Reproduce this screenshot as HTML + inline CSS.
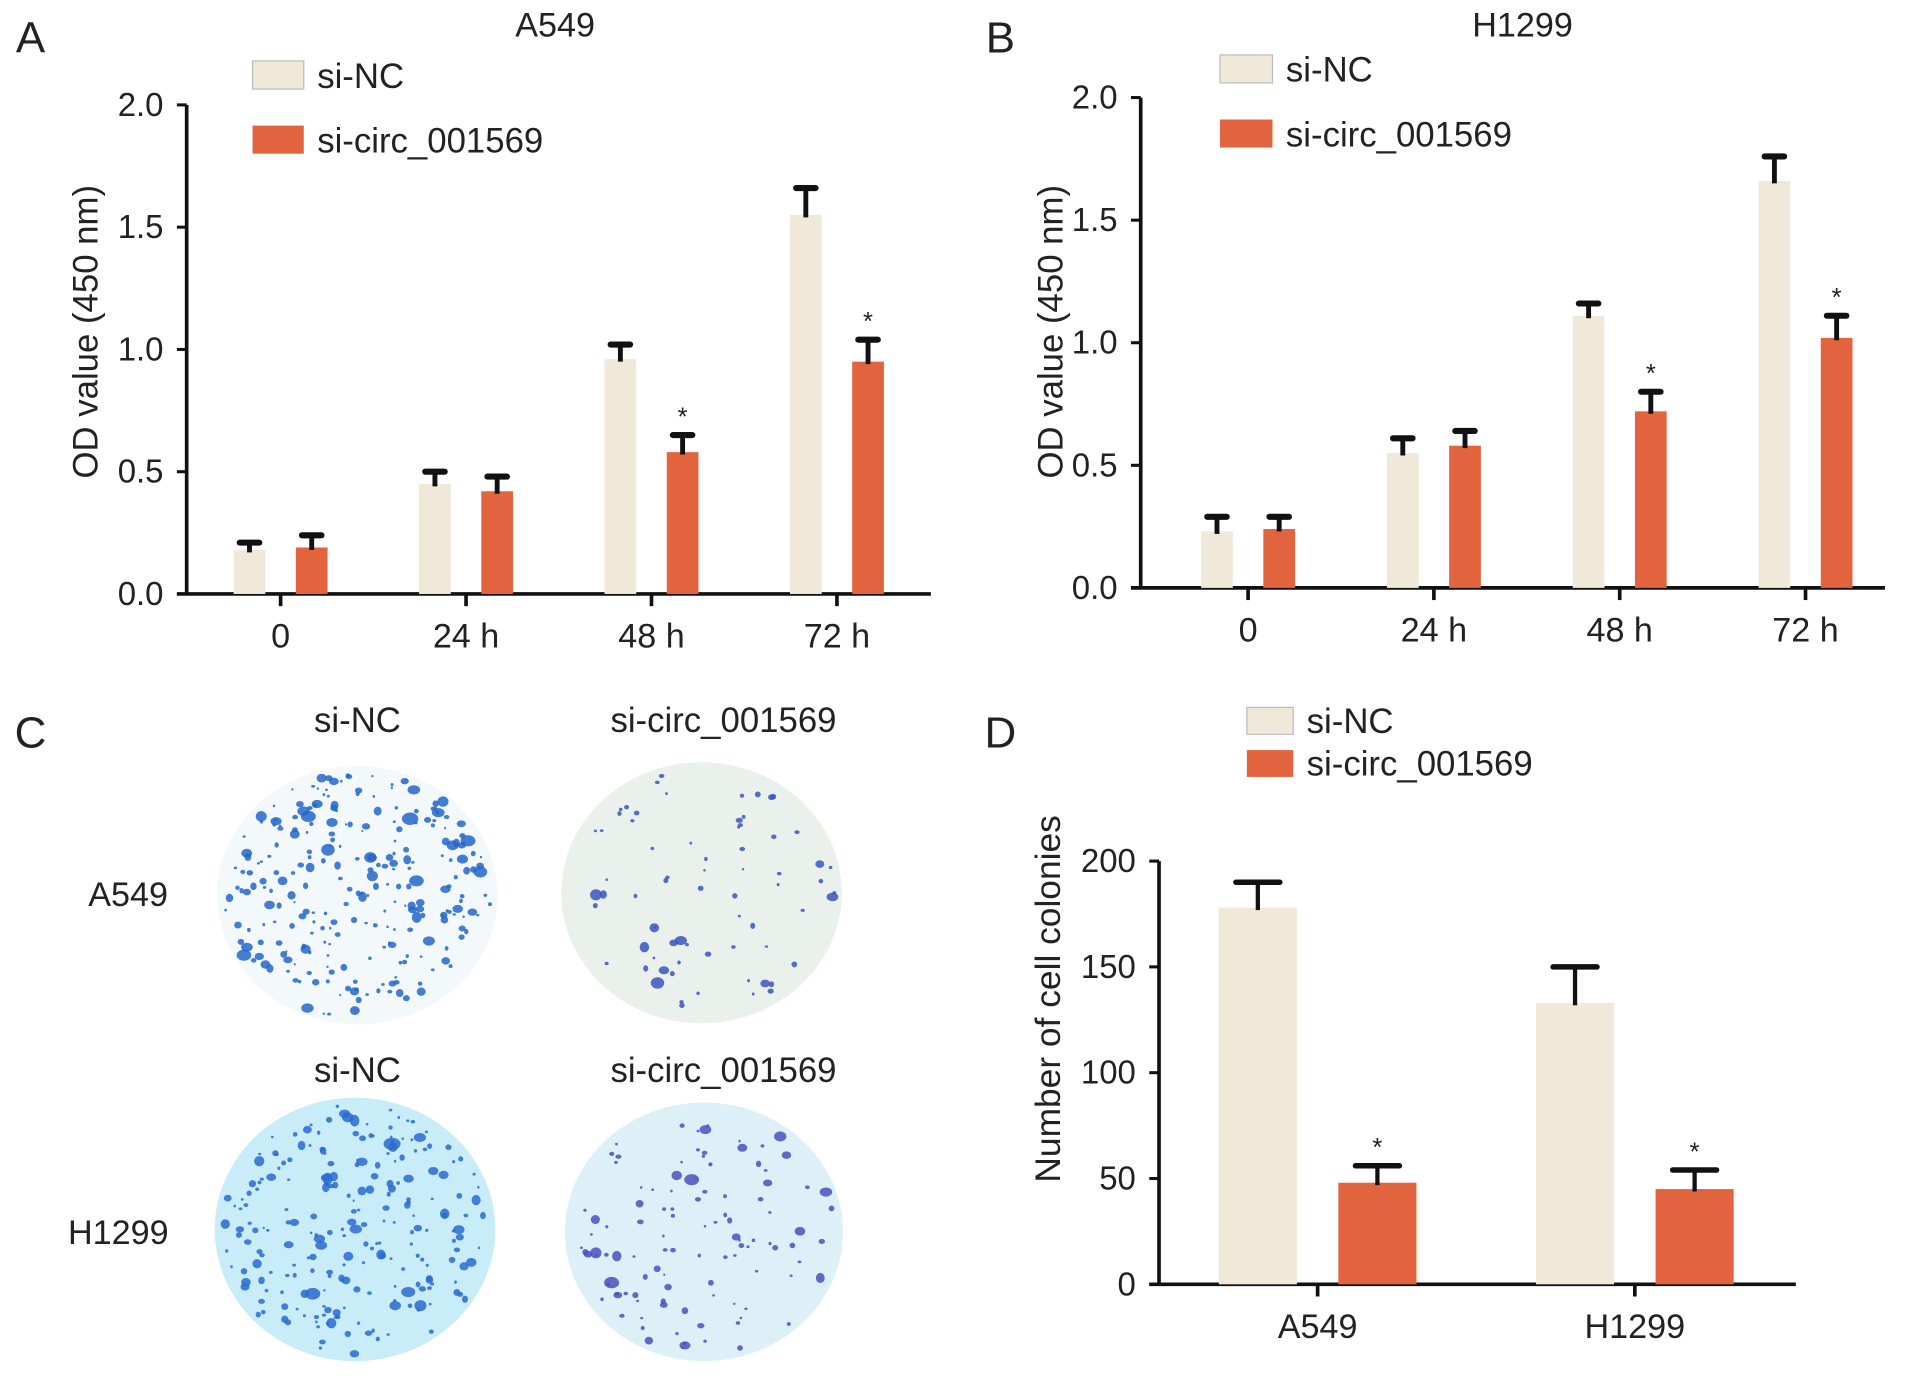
<!DOCTYPE html>
<html><head><meta charset="utf-8"><style>
html,body{margin:0;padding:0;background:#fff;}
svg{display:block;font-family:"Liberation Sans",Arial,sans-serif;}
</style></head><body>
<svg id="fig" width="1913" height="1377" viewBox="0 0 1568 1129" preserveAspectRatio="none" xmlns="http://www.w3.org/2000/svg">
<g id="root"></g>
</svg>
<script>
// Panel A data (A549 OD)
const timeCats = ["0", "24 h", "48 h", "72 h"];
const aSiNC = [0.18, 0.45, 0.96, 1.55];
const aSiNCErr = [0.03, 0.05, 0.06, 0.11];
const aSiCirc = [0.19, 0.42, 0.58, 0.95];
const aSiCircErr = [0.05, 0.06, 0.07, 0.09];
const aStars = [false, false, true, true];
// Panel B data (H1299 OD)
const bSiNC = [0.23, 0.55, 1.11, 1.66];
const bSiNCErr = [0.06, 0.06, 0.05, 0.10];
const bSiCirc = [0.24, 0.58, 0.72, 1.02];
const bSiCircErr = [0.05, 0.06, 0.08, 0.09];
const bStars = [false, false, true, true];
const odTicks = ["0.0", "0.5", "1.0", "1.5", "2.0"];
// Panel D data (colonies)
const cellCats = ["A549", "H1299"];
const dSiNC = [178, 133];
const dSiNCErr = [12, 17];
const dSiCirc = [48, 45];
const dSiCircErr = [8, 9];
const dStars = [true, true];
const colTicks = ["0", "50", "100", "150", "200"];

const NS = "http://www.w3.org/2000/svg";
const root = document.getElementById("root");
const C_NC = "#f0e9da", C_CI = "#e2643f";
function el(tag, attrs, parent, text) {
  const e = document.createElementNS(NS, tag);
  for (const k in attrs) e.setAttribute(k, attrs[k]);
  if (text !== undefined) e.textContent = text;
  (parent || root).appendChild(e);
  return e;
}
function txt(x, y, s, size, anchor, name, parent) {
  const t = el("text", {x: x, y: y, "font-size": size, "text-anchor": anchor || "middle", fill: "#222"}, parent, s);
  
  
  return t;
}

function barChart(o) {
  const g = el("g", {});
  
  
  const ymax = parseFloat(o.ticks[o.ticks.length - 1]);
  const yS = v => o.y0 - (v / ymax) * (o.y0 - o.yTop);
  const xS = i => o.xFirst + i * o.xStep;
  const ya = el("line", {x1: o.ax, y1: o.yTop, x2: o.ax, y2: o.y0, stroke: "#111", "stroke-width": 3}, g);
  
  
  o.ticks.forEach((t, i) => {
    const v = parseFloat(t), y = yS(v);
    const tk = el("line", {x1: o.ax - 8, y1: y, x2: o.ax, y2: y, stroke: "#111", "stroke-width": 2.5}, g);
    
    
    txt(o.ax - 19, y + 9, t, 27, "end", "y-tick-label", g);
  });
  const xa = el("line", {x1: o.ax - 8, y1: o.y0, x2: o.xEnd, y2: o.y0, stroke: "#111", "stroke-width": 3}, g);
  
  
  o.cats.forEach((c, i) => {
    const x = xS(i);
    const tk = el("line", {x1: x, y1: o.y0, x2: x, y2: o.y0 + 10, stroke: "#111", "stroke-width": 3}, g);
    
    
    txt(x, o.y0 + 44, c, 28, "middle", "x-tick-label", g);
  });
  const series = [[o.nc, o.ncErr, C_NC, -o.off, "si-nc"], [o.ci, o.ciErr, C_CI, o.off, "si-circ"]];
  series.forEach(s => {
    s[0].forEach((v, i) => {
      const cx = xS(i) + s[3];
      const r = el("rect", {x: cx - o.bw / 2, y: yS(v), width: o.bw, height: o.y0 - yS(v), fill: s[2]}, g);
      
      
      const top = yS(v + s[1][i]);
      const e1 = el("line", {x1: cx, y1: yS(v) + 2, x2: cx, y2: top, stroke: "#111", "stroke-width": o.ew}, g);
      
      
      const e2 = el("line", {x1: cx - o.cap / 2, y1: top, x2: cx + o.cap / 2, y2: top, stroke: "#111", "stroke-width": o.ew + 1, "stroke-linecap": "round"}, g);
      
      
      if (s[4] === "si-circ" && o.stars[i]) txt(cx, top - 8, "*", 21, "middle", "significance-star", g);
    });
  });
  const yt = el("text", {x: 0, y: 0, "font-size": o.ytSize, "text-anchor": "middle", fill: "#222", transform: "translate(" + o.ytx + "," + o.yty + ") rotate(-90)"}, g, o.ytitle);
  
  
  [[C_NC, "si-NC", 0], [C_CI, "si-circ_001569", 1]].forEach(l => {
    const y = o.legY + l[2] * o.legGap;
    const r = el("rect", {x: o.legX, y: y, width: o.legW, height: o.legH, fill: l[0], stroke: l[2] ? "none" : "#bbb", "stroke-width": 1}, g);
    
    
    txt(o.legX + o.legW + 11, y + o.legH - 1, l[1], 28.5, "start", "legend-entry", g);
  });
}

barChart({name: "panel-a-chart", cats: timeCats, nc: aSiNC, ncErr: aSiNCErr, ci: aSiCirc, ciErr: aSiCircErr, stars: aStars, ticks: odTicks,
  ax: 153, y0: 487, yTop: 86, xFirst: 230, xStep: 152, xEnd: 763, off: 25.5, bw: 26, cap: 16, ew: 4,
  ytitle: "OD value (450 nm)", ytSize: 28.5, ytx: 80, yty: 272, legX: 207, legY: 50, legGap: 53, legW: 42, legH: 23});
barChart({name: "panel-b-chart", cats: timeCats, nc: bSiNC, ncErr: bSiNCErr, ci: bSiCirc, ciErr: bSiCircErr, stars: bStars, ticks: odTicks,
  ax: 935, y0: 482, yTop: 80, xFirst: 1023, xStep: 152.3, xEnd: 1545, off: 25.5, bw: 26, cap: 16, ew: 4,
  ytitle: "OD value (450 nm)", ytSize: 28.5, ytx: 871, yty: 272, legX: 1000, legY: 45, legGap: 53, legW: 43, legH: 23});
barChart({name: "panel-d-chart", cats: cellCats, nc: dSiNC, ncErr: dSiNCErr, ci: dSiCirc, ciErr: dSiCircErr, stars: dStars, ticks: colTicks,
  ax: 950, y0: 1053, yTop: 706, xFirst: 1080, xStep: 260, xEnd: 1472, off: 49, bw: 64, cap: 36, ew: 3.5,
  ytitle: "Number of cell colonies", ytSize: 29, ytx: 869, yty: 819, legX: 1022, legY: 580, legGap: 35, legW: 38, legH: 22});

txt(455, 30, "A549", 28, "middle", "panel-a-title");
txt(1248, 30, "H1299", 28, "middle", "panel-b-title");
txt(25, 43, "A", 36, "middle", "panel-a-label");
txt(820, 43, "B", 36, "middle", "panel-b-label");
txt(25, 613, "C", 36, "middle", "panel-c-label");
txt(820, 613, "D", 36, "middle", "panel-d-label");

txt(293, 600, "si-NC", 28.5, "middle", "plate-column-label");
txt(593, 600, "si-circ_001569", 28.5, "middle", "plate-column-label");
txt(293, 887, "si-NC", 28.5, "middle", "plate-column-label");
txt(593, 887, "si-circ_001569", 28.5, "middle", "plate-column-label");
txt(105, 743, "A549", 28, "middle", "plate-row-label");
txt(97, 1020, "H1299", 28, "middle", "plate-row-label");
let seed = 7;
function rnd() { seed = (seed * 16807) % 2147483647; return seed / 2147483647; }
const plates = [
  {cx: 293, cy: 734, rx: 115, ry: 106, bg: "#f3f9fa", dot: "#2566c9", n: 260, name: "plate-a549-si-nc"},
  {cx: 575, cy: 732, rx: 115, ry: 107, bg: "#eaf0ec", dot: "#3a55c0", n: 70, name: "plate-a549-si-circ"},
  {cx: 291, cy: 1008, rx: 115, ry: 108, bg: "#c8ecf8", dot: "#2a6ad0", n: 230, name: "plate-h1299-si-nc"},
  {cx: 577, cy: 1010, rx: 114, ry: 106, bg: "#ddf0f8", dot: "#4a50c0", n: 110, name: "plate-h1299-si-circ"}
];
plates.forEach(p => {
  const g = el("g", {});
  
  
  el("ellipse", {cx: p.cx, cy: p.cy, rx: p.rx, ry: p.ry, fill: p.bg}, g);
  for (let i = 0; i < p.n; i++) {
    const a = rnd() * Math.PI * 2, r = Math.sqrt(rnd()) * 0.95;
    const rr = 1 + rnd() * rnd() * 4.5;
    el("ellipse", {cx: p.cx + Math.cos(a) * r * p.rx, cy: p.cy + Math.sin(a) * r * p.ry, rx: rr * (0.8 + rnd() * 0.6), ry: rr, fill: p.dot, opacity: 0.85}, g);
  }
});
</script>
</body></html>
